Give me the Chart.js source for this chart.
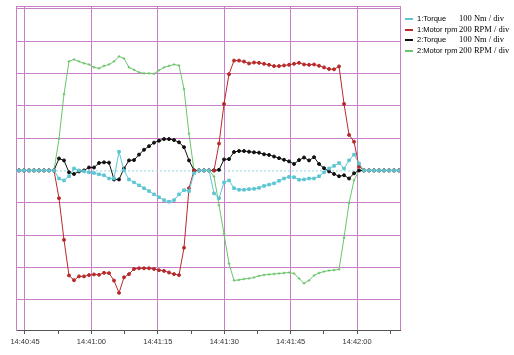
<!DOCTYPE html>
<html>
<head>
<meta charset="utf-8">
<script src="https://cdn.jsdelivr.net/npm/chart.js@4/dist/chart.umd.min.js"></script>
<style>
  body { margin: 0; background: #fff; }
  #wrap { position: relative; width: 514px; height: 355px; }
  #legend { position: absolute; left: 403px; top: 14px; }
  .row { position: absolute; left: 0; height: 11px; white-space: nowrap; color: #000; }
  .sw { position: absolute; left: 2px; top: 4px; width: 8px; height: 2px; }
  .name { position: absolute; left: 14px; top: 0; font: 7.5px "Liberation Sans"; line-height: 10px; }
  .unit { position: absolute; left: 56px; top: -1px; font: 8.5px "Liberation Serif"; line-height: 11px; }
</style>
</head>
<body>
<div id="wrap">
  <canvas id="chart" width="514" height="355"></canvas>
  <div id="legend"></div>
</div>
<script>
// sample clock: seconds after 14:40:45, one sample every ~1.13 s
const firstSample = -2.485;
const sampleStep = 1.1295;

// x-axis: seconds after 14:40:45 that get a tick mark (labels every 15 s)
const tickSeconds = [0, 7.5, 15, 22.5, 30, 37.5, 45, 52.5, 60, 67.5, 75, 82.5];
const xMin = -2.03;
const xMax = 84.7;

// y-axis in divisions
const divLines = [-4, -3, -2, -1, 0, 1, 2, 3, 4, 5];
const yMin = -4.94;
const yMax = 5.09;

const seriesNames = ['1:Torque', '1:Motor rpm', '2:Torque', '2:Motor rpm'];
const scaleLabels = ['100 Nm / div', '200 RPM / div', '100 Nm / div', '200 RPM / div'];
const unitsPerDiv = [100, 200, 100, 200];
const colors = ['#5cc6d3', '#b82a2a', '#111111', '#6cc46c'];

// Nm
const torque1 = [0, 0, 0, 0, 0, 0, 0, 0, 0,
  -25, -31, -18, 6, 0, -3, -6, -8, -12, -15, -25, -25, 58, 0, -28, -37, -46, -55, -64, -74, -83, -92, -97, -92, -74, -61, -64, -9,
  0, 0, 0,
  -71, -86, -37, -31, -55, -60, -60, -58, -57, -54, -48, -44, -40, -32, -25, -20, -21, -29, -28, -25, -25, -18, -6, 6, 14, 23, 6, 31, 49, 21,
  0, 0, 0, 0, 0, 0, 0, 0, 0];
// RPM
const rpm1 = [0, 0, 0, 0, 0, 0, 0, 0, 0,
  -172, -430, -650, -680, -656, -656, -648, -644, -646, -634, -636, -682, -758, -662, -642, -610, -606, -606, -606, -610, -618, -622, -632, -642, -648, -478, -110,
  0, 0, 0, 0, 0,
  166, 412, 596, 680, 680, 674, 662, 668, 666, 660, 654, 646, 646, 650, 654, 660, 666, 656, 654, 656, 648, 638, 628, 626, 644, 412, 220, 178, 24,
  0, 0, 0, 0, 0, 0, 0, 0, 0];
// Nm
const torque2 = [0, 0, 0, 0, 0, 0, 0, 0, 0,
  37, 31, -6, -11, -3, 0, 9, 9, 23, 25, 24, -28, -28, 6, 31, 32, 49, 64, 75, 86, 92, 97, 97, 94, 87, 72, 31,
  0, 0, 0, 0, 0,
  2, 34, 35, 57, 60, 60, 58, 56, 55, 50, 48, 43, 38, 33, 28, 20, 32, 40, 31, 41, 20, 7, -3, -11, -18, -15, -25, -9, 0,
  0, 0, 0, 0, 0, 0, 0, 0, 0];
// RPM
const rpm2 = [0, 0, 0, 0, 0, 0, 0, 0, 0,
  196, 472, 675, 687, 675, 663, 656, 638, 632, 647, 656, 675, 706, 693, 638, 623, 607, 601, 601, 598, 620, 638, 647, 656, 650, 503, 227,
  0, 0, 0, 0,
  -37, -215, -393, -577, -681, -678, -672, -669, -663, -653, -647, -644, -641, -638, -635, -632, -638, -669, -699, -681, -650, -635, -626, -620, -617, -613, -417, -202, -61,
  0, 0, 0, 0, 0, 0, 0, 0, 0, 0];

const allSeries = [torque1, rpm1, torque2, rpm2];
const pointStyles = ['rect', 'circle', 'circle', 'cross'];
const pointSizes = [1.8, 1.5, 1.5, 1.3];

const purple = '#c77fc7';

function timeLabel(sec) {
  let t = 14 * 3600 + 40 * 60 + 45 + sec;
  const h = Math.floor(t / 3600);
  const m = Math.floor((t % 3600) / 60);
  const s = Math.round(t % 60);
  return h + ':' + String(m).padStart(2, '0') + ':' + String(s).padStart(2, '0');
}

// legend
const legend = document.getElementById('legend');
seriesNames.forEach((name, i) => {
  const row = document.createElement('div');
  row.className = 'row';
  row.style.top = (i * 10.7) + 'px';
  row.innerHTML = '<div class="sw" style="background:' + colors[i] + '"></div>' +
    '<span class="name">' + name + '</span><span class="unit">' + scaleLabels[i] + '</span>';
  legend.appendChild(row);
});

const datasets = allSeries.map((vals, i) => ({
  label: seriesNames[i],
  data: vals.map((v, k) => ({ x: firstSample + k * sampleStep, y: v / unitsPerDiv[i] })),
  borderColor: colors[i],
  backgroundColor: colors[i],
  borderWidth: 1,
  pointStyle: pointStyles[i],
  pointRadius: pointSizes[i],
  pointBorderWidth: 1,
  tension: 0
}));

// dashed zero line
const zeroLine = {
  id: 'zeroLine',
  beforeDatasetsDraw(chart) {
    const { ctx, chartArea, scales } = chart;
    const y = scales.y.getPixelForValue(0);
    ctx.save();
    ctx.strokeStyle = '#8fd6de';
    ctx.lineWidth = 1;
    ctx.setLineDash([2, 2]);
    ctx.beginPath();
    ctx.moveTo(chartArea.left, y + 0.5);
    ctx.lineTo(chartArea.right, y + 0.5);
    ctx.stroke();
    ctx.restore();
  }
};

new Chart(document.getElementById('chart').getContext('2d'), {
  type: 'line',
  data: { datasets: datasets },
  options: {
    responsive: false,
    animation: false,
    layout: { padding: { left: 16, right: 114, top: 6, bottom: 6 } },
    plugins: { legend: { display: false }, tooltip: { enabled: false } },
    scales: {
      x: {
        type: 'linear',
        min: xMin,
        max: xMax,
        afterBuildTicks: scale => {
          scale.ticks = [xMin, ...tickSeconds, xMax].map(v => ({ value: v }));
        },
        ticks: {
          autoSkip: false,
          maxRotation: 0,
          padding: 3,
          color: '#333',
          font: { family: 'Liberation Sans', size: 7.5 },
          callback: v => (v % 15 === 0 ? timeLabel(v) : '')
        },
        grid: {
          color: ctx => (ctx.tick.value % 15 === 0 || ctx.tick.value === xMin || ctx.tick.value === xMax) ? purple : 'transparent',
          tickColor: ctx => (ctx.tick.value % 7.5 === 0 ? '#555' : 'transparent'),
          tickLength: 4
        },
        border: { color: '#555' }
      },
      y: {
        min: yMin,
        max: yMax,
        afterBuildTicks: scale => {
          scale.ticks = [yMin, ...divLines, yMax].map(v => ({ value: v }));
        },
        ticks: { display: false },
        grid: {
          color: ctx => (ctx.tick.value === 0 || ctx.tick.value === yMin) ? 'transparent' : purple,
          drawTicks: false
        },
        border: { color: purple }
      }
    }
  },
  plugins: [zeroLine]
});
</script>
</body>
</html>
